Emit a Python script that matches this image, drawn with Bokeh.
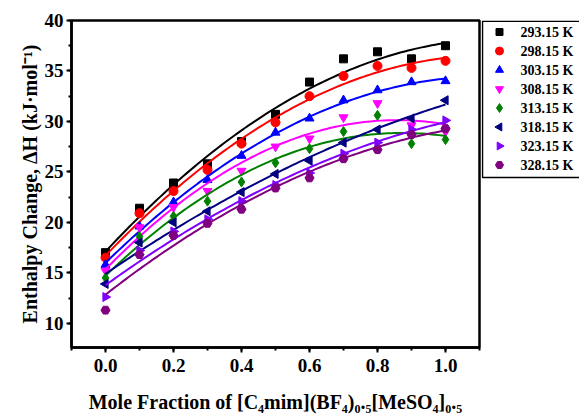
import numpy as np
from bokeh.plotting import figure
from bokeh.layouts import row
from bokeh.models import Range1d, PrintfTickFormatter
from bokeh.core.properties import value
from bokeh.embed import file_html
from bokeh.resources import INLINE

# mole fraction of the ionic liquid
mole_fraction = [0.0, 0.1, 0.2, 0.3, 0.4, 0.5, 0.6, 0.7, 0.8, 0.9, 1.0]

# enthalpy change (kJ/mol) at each temperature
dh_293 = [17.0, 21.4, 23.9, 25.8, 28.0, 30.7, 33.9, 36.2, 36.9, 36.2, 37.5]
dh_298 = [16.5, 20.9, 23.1, 25.2, 27.8, 29.9, 32.5, 34.5, 35.5, 35.3, 36.0]
dh_303 = [15.8, 19.6, 22.0, 24.2, 26.6, 28.9, 30.3, 32.1, 33.1, 33.9, 34.0]
dh_308 = [15.2, 19.5, 21.5, 23.1, 25.1, 27.5, 28.3, 30.4, 31.8, 29.6, 29.0]
dh_313 = [14.5, 18.6, 20.6, 22.1, 24.0, 25.9, 27.3, 29.0, 30.6, 27.8, 28.2]
dh_318 = [13.9, 18.0, 20.0, 21.1, 23.0, 24.8, 26.1, 27.9, 29.2, 30.3, 32.1]
dh_323 = [12.6, 17.2, 19.1, 20.3, 22.1, 23.7, 24.9, 26.8, 27.9, 29.2, 30.1]
dh_328 = [11.3, 16.8, 18.7, 19.9, 21.3, 23.4, 24.4, 26.3, 27.2, 28.7, 29.3]

temperatures = ["293.15 K", "298.15 K", "303.15 K", "308.15 K",
                "313.15 K", "318.15 K", "323.15 K", "328.15 K"]
series = [dh_293, dh_298, dh_303, dh_308, dh_313, dh_318, dh_323, dh_328]

colors = ["#000000", "#FF0000", "#0000FF", "#FF00FF",
          "#008000", "#000080", "#8000FF", "#800080"]
markers = ["square", "circle", "triangle", "inverted_triangle",
           "diamond", "triangle", "triangle", "hex"]
angles = [0, 0, 0, 0, 0, np.pi / 2, -np.pi / 2, 0]
sizes = [8, 9, 9, 9, 10, 9, 9, 9]

FONT = "Liberation Serif"
TOP, BOTTOM = 20, 73

# ---- main plot -------------------------------------------------------------
p = figure(width=481, height=420, output_backend="svg", toolbar_location=None,
           x_range=Range1d(-0.1, 1.1), y_range=Range1d(7.6, 40),
           min_border_left=71, min_border_right=2,
           min_border_top=TOP, min_border_bottom=BOTTOM)

p.xgrid.visible = False
p.ygrid.visible = False
p.outline_line_color = "black"
p.outline_line_width = 2.5
p.outline_line_alpha = 1.0

for ax in (p.xaxis, p.yaxis):
    ax.axis_line_width = 2.5
    ax.major_tick_line_width = 2
    ax.minor_tick_line_width = 2
    ax.major_tick_out = 5
    ax.major_tick_in = 0
    ax.minor_tick_out = 3
    ax.minor_tick_in = 0
    ax.major_label_text_font = FONT
    ax.major_label_text_font_style = "bold"
    ax.major_label_text_font_size = "19px"
    ax.major_label_text_color = "black"
    ax.axis_label_text_font = FONT
    ax.axis_label_text_font_style = "bold"
    ax.axis_label_text_font_size = "20px"
    ax.axis_label_text_color = "black"

p.xaxis.ticker.desired_num_ticks = 6
p.xaxis.ticker.num_minor_ticks = 2
p.yaxis.ticker.num_minor_ticks = 2
p.xaxis.formatter = PrintfTickFormatter(format="%.1f")
p.xaxis.major_label_standoff = 6
p.xaxis.axis_label_standoff = 16
p.yaxis.major_label_standoff = 3
p.yaxis.axis_label_standoff = 1

p.xaxis.axis_label = "Mole Fraction of [C\u2084mim](BF\u2084)\u2080.\u2085[MeSO\u2084]\u2080.\u2085"
p.yaxis.axis_label = "Enthalpy Change, \u0394H (kJ\u00b7mol\u207b\u00b9)"

x = np.array(mole_fraction)
xs_fit = np.linspace(0.0, 1.0, 101)

for ys, c, m, a, s in zip(series, colors, markers, angles, sizes):
    # second-order polynomial fit through the measured points
    coef = np.polyfit(x, np.array(ys), 2)
    p.line(xs_fit, np.polyval(coef, xs_fit), line_color=c, line_width=2)
    p.scatter(x, ys, marker=m, angle=a, size=s, fill_color=c, line_color=c)

# ---- legend panel (pixel-like coordinates, y grows downward) ---------------
LW = 98
FRAME_H = 420 - TOP - BOTTOM
lg = figure(width=LW, height=420, output_backend="svg", toolbar_location=None,
            x_range=Range1d(0, LW), y_range=Range1d(FRAME_H, 0),
            x_axis_type=None, y_axis_type=None,
            min_border_left=0, min_border_right=0,
            min_border_top=TOP, min_border_bottom=BOTTOM)
lg.outline_line_color = None
lg.xgrid.visible = False
lg.ygrid.visible = False

# box whose right side runs past the panel edge
box_h = 157
lg.quad(left=[1], right=[LW + 20], top=[0.8], bottom=[box_h],
        fill_color="white", line_color="black", line_width=1.5)

row_h = 19
rows_y = [11.5 + row_h * i for i in range(len(temperatures))]
for yy, c, m, a, s in zip(rows_y, colors, markers, angles, sizes):
    lg.scatter([18], [yy], marker=m, angle=a, size=s - 1,
               fill_color=c, line_color=c)
lg.text(x=[39] * len(temperatures), y=rows_y, text=temperatures,
        text_font=value(FONT), text_font_style="bold",
        text_font_size="14px", text_color="black",
        text_baseline="middle", text_align="left")

open("out.html", "w").write(file_html(row(p, lg), INLINE))
